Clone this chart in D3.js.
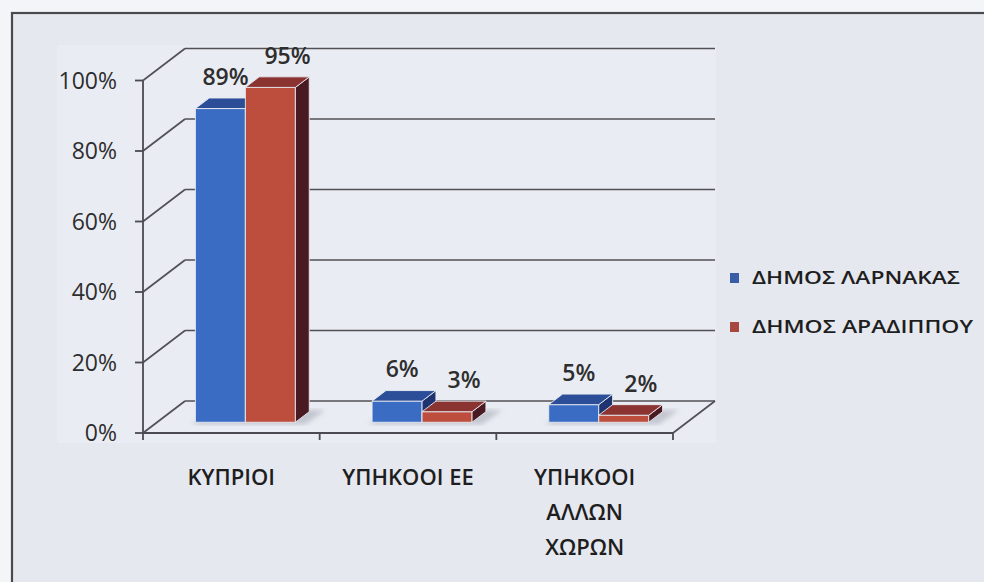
<!DOCTYPE html>
<html>
<head>
<meta charset="utf-8">
<script src="https://cdn.jsdelivr.net/npm/d3@7"></script>
<style>
  html, body { margin: 0; padding: 0; background: #f4f5f8; }
  svg { display: block; }
</style>
</head>
<body>
<svg id="chart" width="984" height="582"></svg>
<script>
// ---- data ----
const categories = ["ΚΥΠΡΙΟΙ", "ΥΠΗΚΟΟΙ ΕΕ", "ΥΠΗΚΟΟΙ ΑΛΛΩΝ ΧΩΡΩΝ"];
const categoryLines = [["ΚΥΠΡΙΟΙ"], ["ΥΠΗΚΟΟΙ ΕΕ"], ["ΥΠΗΚΟΟΙ", "ΑΛΛΩΝ", "ΧΩΡΩΝ"]];
const series = ["ΔΗΜΟΣ ΛΑΡΝΑΚΑΣ", "ΔΗΜΟΣ ΑΡΑΔΙΠΠΟΥ"];
const larnakaValues = [0.89, 0.06, 0.05];
const aradippouValues = [0.95, 0.03, 0.02];
const yTicks = [0, 0.2, 0.4, 0.6, 0.8, 1.0];

const values = [larnakaValues, aradippouValues];
const colors = [
  { front: "#3b6cc4", top: "#2c4e98", side: "#1e3370", legend: "#3a5da8" },
  { front: "#bd4e3d", top: "#8b3330", side: "#4a1a22", legend: "#a8473e" }
];

const svg = d3.select("#chart");
const font = "'Open Sans', 'DejaVu Sans', sans-serif";

// frame
svg.append("rect").attr("x", 0).attr("y", 0).attr("width", 984).attr("height", 582).attr("fill", "#f4f5f8");
svg.append("rect").attr("x", 12).attr("y", 13).attr("width", 1000).attr("height", 600)
  .attr("fill", "#e6e8f0").attr("stroke", "#4a4a4e").attr("stroke-width", 2.2);
svg.append("rect").attr("x", 57).attr("y", 45).attr("width", 659).attr("height", 398).attr("fill", "#eaecf3");

// projection / scales
const DX = 42, DY = -32;               // full depth offset
const f0 = 0.335, f1 = 0.665;          // bar depth slab
const x0 = d3.scaleBand().domain(categories).range([143, 673]).paddingInner(0).paddingOuter(0);
const x1 = d3.scaleBand().domain(series).range([0, x0.bandwidth()]).paddingInner(0).paddingOuter(0.767);
const y = d3.scaleLinear().domain([0, 1]).range([433, 80.5]);
const P = (x, yy, f) => [x + DX * f, yy + DY * f];
const poly = pts => pts.map(p => p.join(",")).join(" ");

const grid = svg.append("g").attr("stroke", "#505055").attr("stroke-width", 1.6).attr("fill", "none");
yTicks.forEach(t => {
  const a = P(143, y(t), 0), b = P(143, y(t), 1), c = P(673, y(t), 1);
  grid.append("line").attr("x1", a[0]).attr("y1", a[1]).attr("x2", b[0]).attr("y2", b[1]);
  grid.append("line").attr("x1", b[0]).attr("y1", b[1]).attr("x2", c[0]).attr("y2", c[1]);
});
{
  const a = P(673, y(0), 0), b = P(673, y(0), 1);
  grid.append("line").attr("x1", a[0]).attr("y1", a[1]).attr("x2", b[0]).attr("y2", b[1]);
}

// shadows
const defs = svg.append("defs");
defs.append("filter").attr("id", "blur").append("feGaussianBlur").attr("stdDeviation", 2.5);

categories.forEach((cat, ci) => {
  const xl = x0(cat) + x1(series[0]);
  const xr = x0(cat) + x1(series[1]) + x1.bandwidth();
  const y0 = y(0);
  const pts = [P(xl - 4, y0 + 2, f0), P(xr + 10, y0 + 2, f0), P(xr + 14, y0, f1 + 0.05), P(xl + 4, y0, f1 + 0.05)];
  svg.append("polygon").attr("points", poly(pts)).attr("fill", "#b9bcc6").attr("opacity", 0.8).attr("filter", "url(#blur)");
});

// bars
const barsG = svg.append("g");
categories.forEach((cat, ci) => {
  series.forEach((s, si) => {
    const v = values[si][ci];
    const xa = x0(cat) + x1(s), xb = xa + x1.bandwidth();
    const yb = y(0), yt = y(v);
    const c = colors[si];
    const g = barsG.append("g").attr("stroke", "#e9ebf2").attr("stroke-width", 0.9).attr("stroke-linejoin", "round");
    g.append("polygon").attr("points", poly([P(xa, yb, f0), P(xb, yb, f0), P(xb, yt, f0), P(xa, yt, f0)])).attr("fill", c.front);
    g.append("polygon").attr("points", poly([P(xb, yb, f0), P(xb, yb, f1), P(xb, yt, f1), P(xb, yt, f0)])).attr("fill", c.side);
    g.append("polygon").attr("points", poly([P(xa, yt, f0), P(xb, yt, f0), P(xb, yt, f1), P(xa, yt, f1)])).attr("fill", c.top);
  });
});

// data labels
const labelOffset = [-9, 3];
categories.forEach((cat, ci) => {
  series.forEach((s, si) => {
    const v = values[si][ci];
    const xc = x0(cat) + x1(s) + x1.bandwidth() / 2;
    const p = P(xc, y(v), (f0 + f1) / 2 + 0.17);
    svg.append("text").attr("x", p[0] + labelOffset[si]).attr("y", p[1] - 13)
      .attr("text-anchor", "middle").attr("font-family", font).attr("font-weight", 600)
      .attr("font-size", 23).attr("fill", "#2e2e2e")
      .text(d3.format(".0%")(v));
  });
});

// front axes
const axisG = svg.append("g").attr("stroke", "#4a4a50").attr("stroke-width", 1.8).attr("fill", "none");
axisG.append("line").attr("x1", 143).attr("y1", y(1)).attr("x2", 143).attr("y2", y(0));
axisG.append("line").attr("x1", 143).attr("y1", y(0)).attr("x2", 673).attr("y2", y(0));
yTicks.forEach(t => axisG.append("line").attr("x1", 135).attr("x2", 143).attr("y1", y(t)).attr("y2", y(t)));
categories.forEach(cat => {
  axisG.append("line").attr("x1", x0(cat)).attr("x2", x0(cat)).attr("y1", y(0)).attr("y2", y(0) + 7);
});
axisG.append("line").attr("x1", 673).attr("x2", 673).attr("y1", y(0)).attr("y2", y(0) + 7);

// y tick labels
yTicks.forEach(t => {
  svg.append("text").attr("x", 117).attr("y", y(t) + 8).attr("text-anchor", "end")
    .attr("font-family", font).attr("font-size", 23).attr("fill", "#2e2e2e")
    .text(d3.format(".0%")(t));
});

// category labels
categories.forEach((cat, ci) => {
  const t = svg.append("text").attr("text-anchor", "middle").attr("font-family", font)
    .attr("font-size", 22).attr("font-weight", 600).attr("fill", "#1e1e1e");
  categoryLines[ci].forEach((ln, li) => {
    t.append("tspan").attr("x", x0(cat) + x0.bandwidth() / 2).attr("y", 485 + li * 35).text(ln);
  });
});

// legend
series.forEach((s, si) => {
  const ly = 278 + si * 49;
  svg.append("rect").attr("x", 730).attr("y", ly - 5).attr("width", 9).attr("height", 10).attr("fill", colors[si].legend);
  svg.append("text").attr("x", 752).attr("y", ly + 6).attr("font-family", font).attr("font-size", 18)
    .attr("font-weight", 600).attr("fill", "#1e1e1e")
    .attr("textLength", si === 0 ? 208 : 221).attr("lengthAdjust", "spacingAndGlyphs").text(s);
});
</script>
</body>
</html>
